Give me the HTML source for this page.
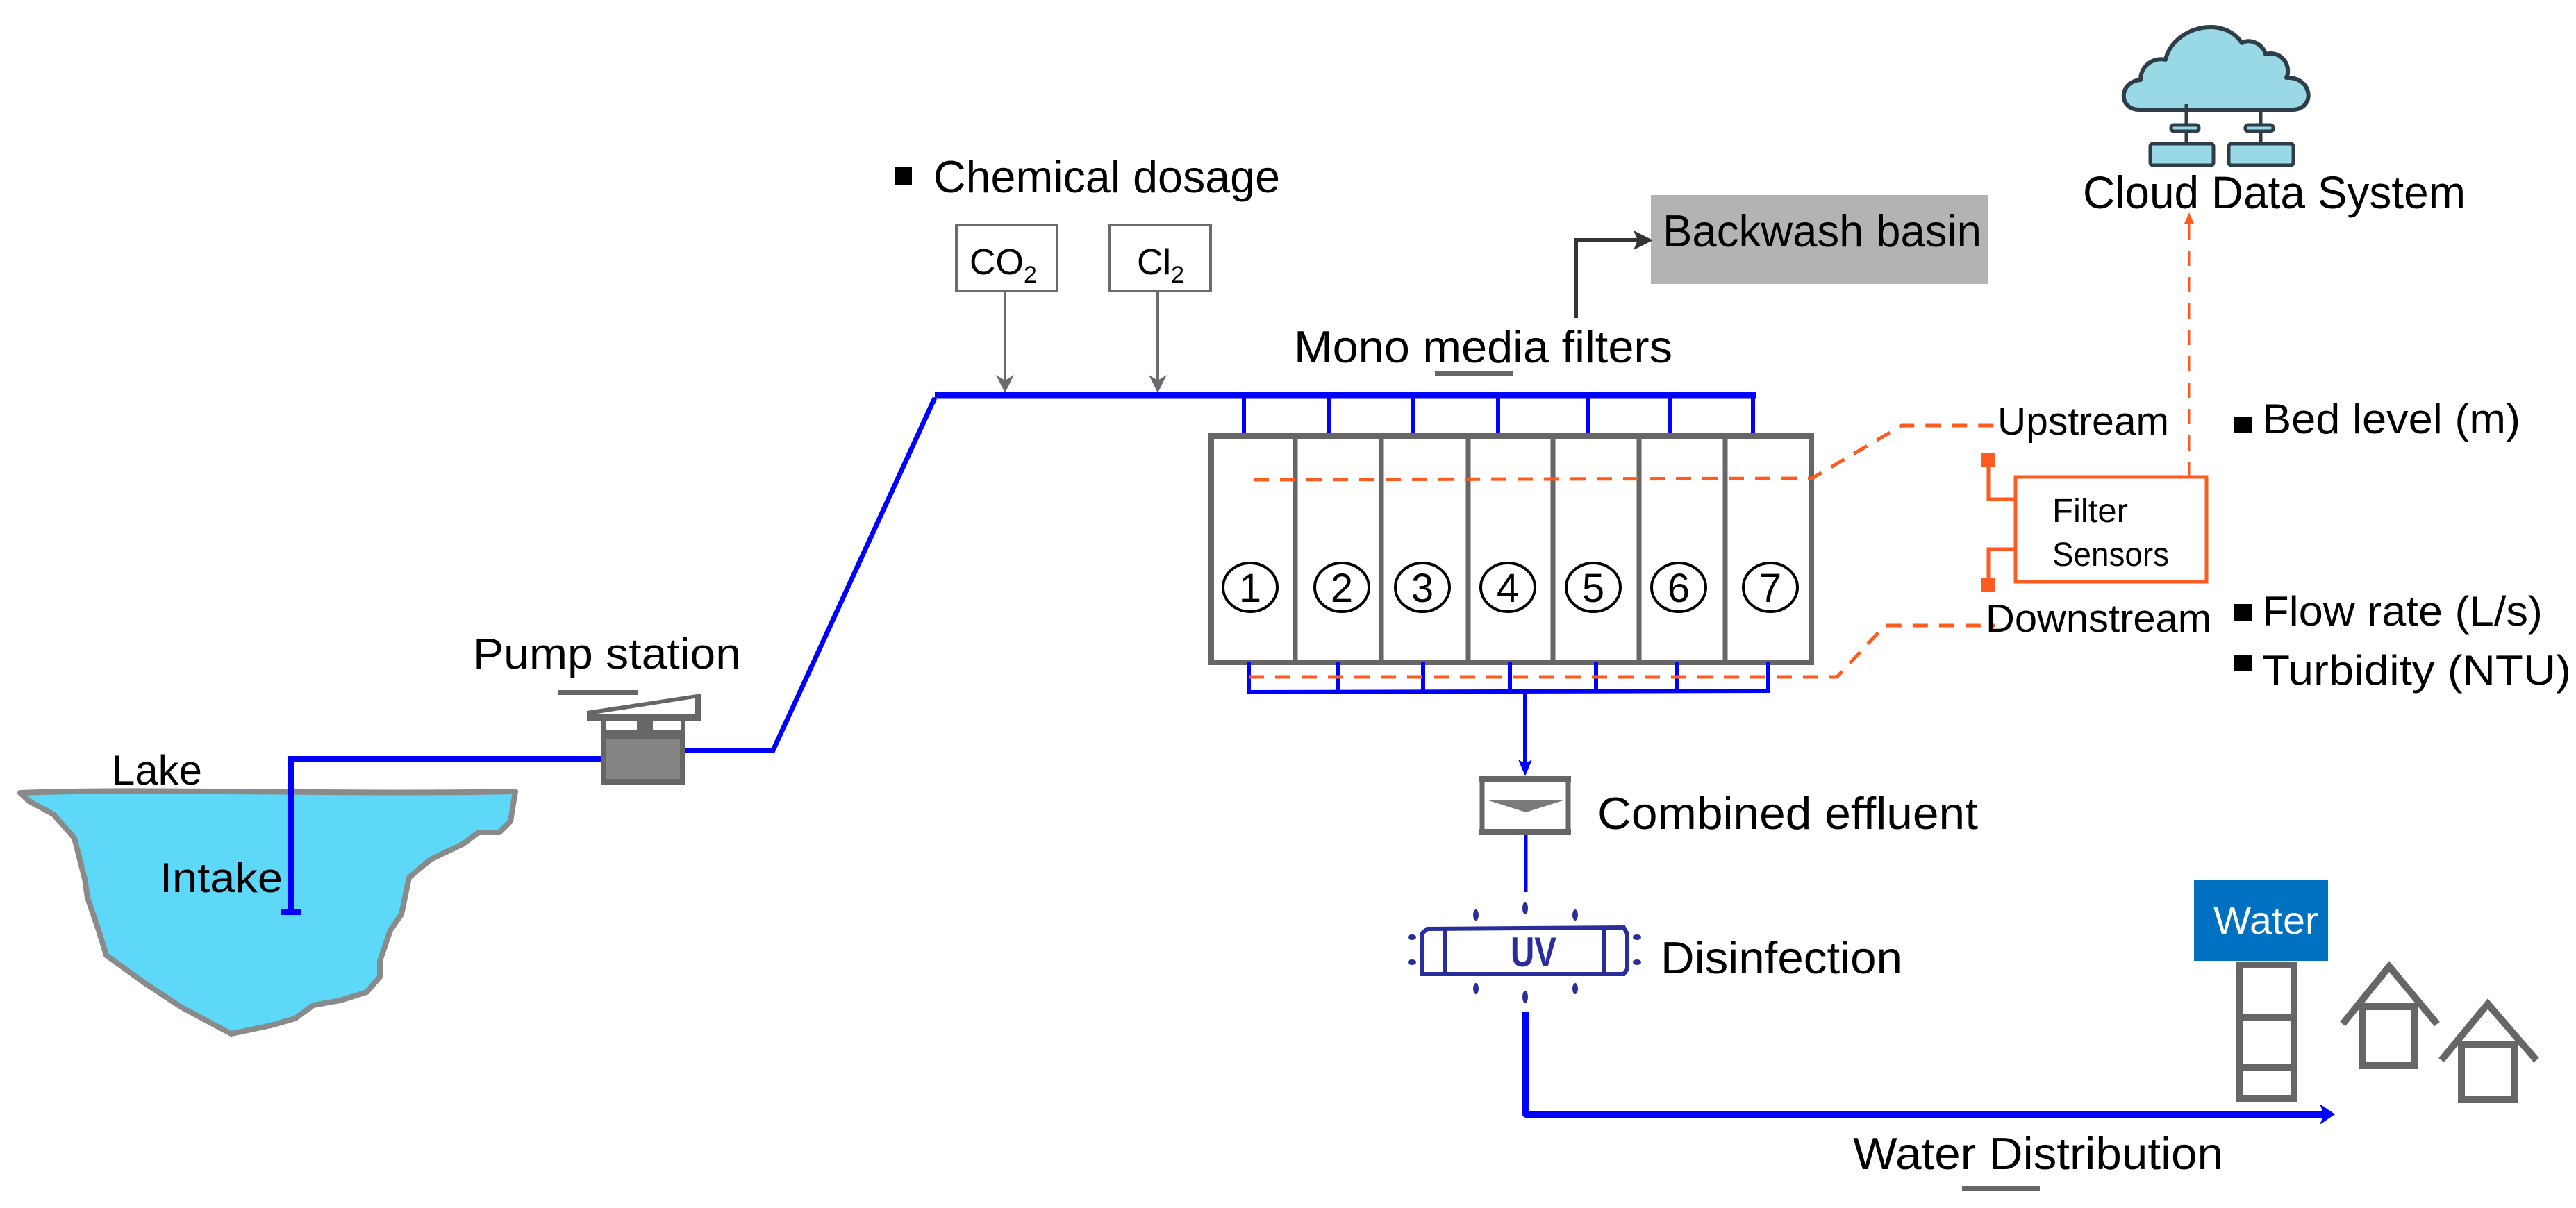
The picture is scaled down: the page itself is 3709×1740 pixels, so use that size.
<!DOCTYPE html>
<html><head><meta charset="utf-8"><style>html,body{margin:0;padding:0;background:#fff}svg{display:block}text{font-family:"Liberation Sans",sans-serif;fill:#000}</style></head>
<body>
<svg width="3709" height="1740" viewBox="0 0 3709 1740" xmlns="http://www.w3.org/2000/svg">
<defs>
<marker id="ab" markerWidth="10" markerHeight="10" refX="8" refY="5" orient="auto" markerUnits="userSpaceOnUse" viewBox="0 0 10 10"><path d="M0,0 L10,5 L0,10 L3,5 Z" fill="#0000ff"/></marker>
</defs>
<path d="M29,1142 C200,1135 500,1145 742,1140 L735,1183 L719,1199 L689,1199 L666,1216 L620,1238 L589,1264 L578,1317 L562,1340 L547,1384 L547,1407 L528,1429 L490,1441 L451,1448 L425,1467 L390,1477 L333,1489 L310,1477 L260,1450 L207,1415 L153,1376 L142,1340 L126,1293 L122,1266 L107,1207 L77,1173 L42,1154 Z" fill="#5dd8f9" stroke="#8a8a8a" stroke-width="8" stroke-linejoin="round"/>
<text x="161" y="1130" font-size="60" textLength="130" lengthAdjust="spacingAndGlyphs">Lake</text>
<text x="230" y="1285" font-size="60" textLength="177" lengthAdjust="spacingAndGlyphs">Intake</text>
<polyline points="419,1314 419,1093 865,1093" fill="none" stroke="#0000ff" stroke-width="8"/>
<rect x="405" y="1309" width="28" height="9" fill="#0000ff"/>
<text x="681" y="963" font-size="62" textLength="386" lengthAdjust="spacingAndGlyphs">Pump station</text>
<rect x="803" y="994" width="115" height="7" fill="#666"/>
<polygon points="845,1024 1010,999 1010,1038 845,1038" fill="#666"/>
<polygon points="860,1028 1000,1006 1000,1028" fill="#fff"/>
<rect x="865" y="1036" width="122" height="94" fill="#666"/>
<rect x="872" y="1038" width="45" height="13" fill="#fff"/>
<rect x="940" y="1038" width="40" height="13" fill="#fff"/>
<rect x="873" y="1064" width="106" height="58" fill="#858585"/>
<polyline points="987,1081 1113,1081 1346,573" fill="none" stroke="#0000ff" stroke-width="7" marker-end="url(#ab)"/>
<line x1="1346" y1="569" x2="2528" y2="569" stroke="#0000ff" stroke-width="9"/>
<rect x="1289" y="241" width="24" height="26" fill="#000"/>
<text x="1344" y="277" font-size="65" textLength="499" lengthAdjust="spacingAndGlyphs">Chemical dosage</text>
<rect x="1377" y="324" width="145" height="95" fill="#fff" stroke="#6b6b6b" stroke-width="4"/>
<rect x="1598" y="324" width="145" height="95" fill="#fff" stroke="#6b6b6b" stroke-width="4"/>
<text x="1396" y="395" font-size="52">CO<tspan font-size="34" dy="12">2</tspan></text>
<text x="1637" y="395" font-size="52">Cl<tspan font-size="34" dy="12">2</tspan></text>
<line x1="1447" y1="419" x2="1447" y2="556" stroke="#6b6b6b" stroke-width="4"/>
<line x1="1667" y1="419" x2="1667" y2="556" stroke="#6b6b6b" stroke-width="4"/>
<path d="M1434,540 L1447,566 L1460,540 L1447,548 Z" fill="#6b6b6b"/>
<path d="M1654,540 L1667,566 L1680,540 L1667,548 Z" fill="#6b6b6b"/>
<rect x="2377" y="281" width="485" height="128" fill="#b3b3b3"/>
<text x="2394" y="355" font-size="65" textLength="459" lengthAdjust="spacingAndGlyphs">Backwash basin</text>
<polyline points="2269,458 2269,346 2360,346" fill="none" stroke="#333" stroke-width="6"/>
<path d="M2352,332 L2380,346 L2352,360 L2358,346 Z" fill="#333"/>
<text x="1863" y="522" font-size="65" textLength="545" lengthAdjust="spacingAndGlyphs">Mono media filters</text>
<rect x="2066" y="535" width="113" height="7" fill="#666"/>
<g stroke="#0000ff" stroke-width="6">
<line x1="1791" y1="569" x2="1791" y2="628"/><line x1="1914" y1="569" x2="1914" y2="628"/><line x1="2034" y1="569" x2="2034" y2="628"/><line x1="2157" y1="569" x2="2157" y2="628"/><line x1="2286" y1="569" x2="2286" y2="628"/><line x1="2404" y1="569" x2="2404" y2="628"/><line x1="2524" y1="569" x2="2524" y2="630"/>
</g>
<rect x="1744" y="628" width="864" height="326" fill="none" stroke="#666" stroke-width="8"/>
<g stroke="#666" stroke-width="7">
<line x1="1865" y1="628" x2="1865" y2="954"/><line x1="1989" y1="628" x2="1989" y2="954"/><line x1="2114" y1="628" x2="2114" y2="954"/><line x1="2236" y1="628" x2="2236" y2="954"/><line x1="2360" y1="628" x2="2360" y2="954"/><line x1="2484" y1="628" x2="2484" y2="954"/>
</g>
<g fill="#fff" stroke="#000" stroke-width="4">
<ellipse cx="1800" cy="846" rx="39" ry="35"/><ellipse cx="1932" cy="846" rx="39" ry="35"/><ellipse cx="2048" cy="846" rx="39" ry="35"/><ellipse cx="2171" cy="846" rx="39" ry="35"/><ellipse cx="2294" cy="846" rx="39" ry="35"/><ellipse cx="2417" cy="846" rx="39" ry="35"/><ellipse cx="2549" cy="846" rx="39" ry="35"/>
</g>
<g font-size="58" text-anchor="middle">
<text x="1800" y="867">1</text><text x="1932" y="867">2</text><text x="2048" y="867">3</text><text x="2171" y="867">4</text><text x="2294" y="867">5</text><text x="2417" y="867">6</text><text x="2549" y="867">7</text>
</g>
<g stroke="#0000ff" stroke-width="6">
<line x1="1798" y1="954" x2="1798" y2="998"/><line x1="1927" y1="954" x2="1927" y2="998"/><line x1="2049" y1="954" x2="2049" y2="998"/><line x1="2174" y1="954" x2="2174" y2="998"/><line x1="2298" y1="954" x2="2298" y2="998"/><line x1="2415" y1="954" x2="2415" y2="998"/><line x1="2546" y1="954" x2="2546" y2="998"/>
<line x1="1795" y1="997" x2="2549" y2="995"/>
<line x1="2196" y1="996" x2="2196" y2="1110"/>
</g>
<path d="M2186,1094 L2196,1118 L2206,1094 L2196,1100 Z" fill="#0000ff"/>
<g fill="none" stroke="#ff5a1f" stroke-width="5" stroke-dasharray="22,16">
<polyline points="1805,691 2609,689 2738,613 2876,613"/>
<polyline points="1798,975 2645,975 2714,901 2873,901"/>
<line x1="3152" y1="687" x2="3152" y2="318" stroke-width="3"/>
</g>
<path d="M3145,322 L3152,306 L3159,322 Z" fill="#ff5a1f"/>
<rect x="2902" y="687" width="275" height="151" fill="#fff" stroke="#ff5a1f" stroke-width="5"/>
<text x="2955" y="752" font-size="48" textLength="109" lengthAdjust="spacingAndGlyphs">Filter</text>
<text x="2955" y="815" font-size="48" textLength="168" lengthAdjust="spacingAndGlyphs">Sensors</text>
<polyline points="2863,662 2863,719 2902,719" fill="none" stroke="#ff5a1f" stroke-width="5"/>
<polyline points="2902,791 2863,791 2863,842" fill="none" stroke="#ff5a1f" stroke-width="5"/>
<rect x="2853" y="652" width="20" height="20" fill="#ff5a1f"/>
<rect x="2853" y="832" width="20" height="20" fill="#ff5a1f"/>
<text x="2876" y="626" font-size="57" textLength="247" lengthAdjust="spacingAndGlyphs">Upstream</text>
<text x="2859" y="910" font-size="57" textLength="325" lengthAdjust="spacingAndGlyphs">Downstream</text>
<rect x="3217" y="600" width="26" height="24" fill="#000"/>
<text x="3257" y="624" font-size="60" textLength="372" lengthAdjust="spacingAndGlyphs">Bed level (m)</text>
<rect x="3216" y="870" width="26" height="24" fill="#000"/>
<text x="3257" y="901" font-size="60" textLength="404" lengthAdjust="spacingAndGlyphs">Flow rate (L/s)</text>
<rect x="3216" y="944" width="26" height="22" fill="#000"/>
<text x="3257" y="986" font-size="60" textLength="445" lengthAdjust="spacingAndGlyphs">Turbidity (NTU)</text>
<path d="M3080,158 C3050,158 3050,118 3082,115 C3082,95 3100,82 3118,86 C3128,40 3200,20 3228,62 C3238,55 3258,62 3262,78 C3285,72 3300,95 3292,112 C3330,110 3335,158 3300,158 Z" fill="#99d9e6" stroke="#2d3e4a" stroke-width="6" stroke-linejoin="round"/>
<g stroke="#2d3e4a" stroke-width="5" fill="#99d9e6">
<line x1="3148" y1="150" x2="3148" y2="207"/><line x1="3255" y1="158" x2="3255" y2="207"/>
<rect x="3126" y="180" width="40" height="9" rx="4"/><rect x="3233" y="180" width="40" height="9" rx="4"/>
<rect x="3096" y="207" width="91" height="31" rx="4"/><rect x="3209" y="207" width="93" height="31" rx="4"/>
</g>
<text x="2999" y="300" font-size="66" textLength="551" lengthAdjust="spacingAndGlyphs">Cloud Data System</text>
<rect x="2134" y="1122" width="124" height="77" fill="#fff" stroke="#666" stroke-width="7"/>
<rect x="2130" y="1118" width="132" height="9" fill="#666"/>
<rect x="2130" y="1194" width="132" height="9" fill="#666"/>
<polygon points="2140,1152 2254,1152 2197,1170" fill="#7a7a7a"/>
<text x="2300" y="1194" font-size="65" textLength="548" lengthAdjust="spacingAndGlyphs">Combined effluent</text>
<line x1="2197" y1="1203" x2="2197" y2="1285" stroke="#0000ff" stroke-width="5"/>
<g fill="#2a2e9a" stroke="#2a2e9a">
<path d="M2055,1338 L2338,1336 L2343,1345 L2343,1396 L2338,1403 L2048,1403 L2047,1345 Z" fill="#fff" stroke-width="6"/>
<line x1="2080" y1="1340" x2="2080" y2="1400" stroke-width="6"/>
<line x1="2310" y1="1340" x2="2310" y2="1400" stroke-width="6"/>
<g stroke="none">
<ellipse cx="2033" cy="1350" rx="6" ry="4"/><ellipse cx="2033" cy="1386" rx="6" ry="4"/><ellipse cx="2357" cy="1350" rx="6" ry="4"/><ellipse cx="2357" cy="1386" rx="6" ry="4"/>
<ellipse cx="2196" cy="1308" rx="4" ry="9"/><ellipse cx="2196" cy="1436" rx="4" ry="9"/>
<ellipse cx="2125" cy="1318" rx="4" ry="8"/><ellipse cx="2268" cy="1318" rx="4" ry="8"/><ellipse cx="2125" cy="1424" rx="4" ry="8"/><ellipse cx="2268" cy="1424" rx="4" ry="8"/>
</g>
</g>
<text x="2208" y="1392" font-size="60" font-weight="bold" text-anchor="middle" style="fill:#2a2e9a" textLength="66" lengthAdjust="spacingAndGlyphs">UV</text>
<text x="2391" y="1402" font-size="65" textLength="348" lengthAdjust="spacingAndGlyphs">Disinfection</text>
<polyline points="2197,1457 2197,1605 3350,1605" fill="none" stroke="#0000ff" stroke-width="10" stroke-linejoin="round"/>
<path d="M3340,1590 L3362,1605 L3340,1620 L3346,1605 Z" fill="#0000ff"/>
<text x="2668" y="1684" font-size="65" textLength="533" lengthAdjust="spacingAndGlyphs">Water Distribution</text>
<rect x="2825" y="1708" width="112" height="8" fill="#666"/>
<rect x="3159" y="1268" width="193" height="116" fill="#0070c0"/>
<text x="3187" y="1345" font-size="56" textLength="151" lengthAdjust="spacingAndGlyphs" style="fill:#fff">Water</text>
<g fill="none" stroke="#666" stroke-width="10">
<rect x="3225" y="1390" width="78" height="192"/>
<line x1="3225" y1="1466" x2="3303" y2="1466"/><line x1="3225" y1="1538" x2="3303" y2="1538"/>
<polyline points="3373,1475 3440,1392 3509,1475"/>
<rect x="3401" y="1450" width="76" height="85"/>
<polyline points="3515,1527 3582,1446 3652,1527"/>
<rect x="3544" y="1504" width="77" height="80"/>
</g>
</svg>
</body></html>
